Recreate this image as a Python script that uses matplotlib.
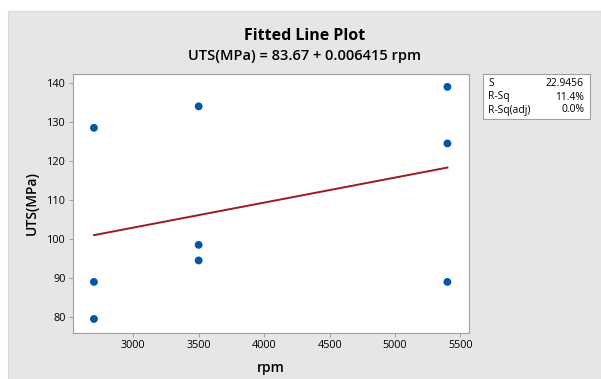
import numpy as np
import matplotlib.pyplot as plt
from matplotlib.patches import Rectangle

plt.rcParams['font.family'] = ['Open Sans', 'DejaVu Sans']

rpm = [2700, 2700, 2700, 3500, 3500, 3500, 5400, 5400, 5400]
uts = [128.5, 89.0, 79.5, 134.0, 98.5, 94.5, 139.0, 124.5, 89.0]
intercept = 83.67
slope = 0.006415
stats_labels = ['S', 'R-Sq', 'R-Sq(adj)']
stats_values = ['22.9456', '11.4%', '0.0%']

W, H = 601, 379
fig = plt.figure(figsize=(W / 100, H / 100), dpi=100)
fig.patch.set_facecolor('white')

# gray panel behind everything
fig.patches.append(Rectangle((8 / W, 0), 1 - 8 / W, 1 - 11 / H, transform=fig.transFigure,
                             facecolor='#e6e6e6', edgecolor='#d8d8d8', lw=0.8, zorder=-10))

ax = fig.add_axes([73 / W, 1 - 333 / H, (469 - 73) / W, (333 - 74) / H])
ax.set_zorder(1)
ax.set_facecolor('white')

xfit = np.linspace(min(rpm), max(rpm), 50)
ax.plot(xfit, intercept + slope * xfit, color='#9c1b1f', lw=1.4, zorder=2)
ax.scatter(rpm, uts, s=32, color='#0656a8', zorder=3, edgecolors='none')

ax.set_xlim(2540, 5565)
ax.set_ylim(75.9, 142.3)
ax.set_xticks([3000, 3500, 4000, 4500, 5000, 5500])
ax.set_yticks([80, 90, 100, 110, 120, 130, 140])
ax.tick_params(labelsize=7.8, length=3, width=0.6, color='#909090', pad=2)
for s in ax.spines.values():
    s.set_color('#a0a0a0')
    s.set_linewidth(0.8)

ax.set_xlabel('rpm', fontsize=10, labelpad=7, fontweight='semibold')
ax.set_ylabel('UTS(MPa)', fontsize=10, labelpad=6, fontweight='semibold')

fig.text(305 / W, 1 - 36 / H, 'Fitted Line Plot', ha='center', va='center',
         fontsize=11.5, fontweight='bold')
fig.text(305 / W, 1 - 56 / H, 'UTS(MPa) = 83.67 + 0.006415 rpm', ha='center',
         va='center', fontsize=10.5, fontweight='semibold')

# statistics box
fig.patches.append(Rectangle((483 / W, 1 - 119 / H), (590 - 483) / W, (119 - 74) / H,
                             transform=fig.transFigure, facecolor='white', edgecolor='#a0a0a0',
                             lw=0.8, zorder=1))
for i, (lab, val) in enumerate(zip(stats_labels, stats_values)):
    y = 1 - (84 + i * 13) / H
    fig.text(488 / W, y, lab, fontsize=7.4, va='center', ha='left', zorder=2)
    fig.text(584 / W, y, val, fontsize=7.4, va='center', ha='right', zorder=2)

plt.savefig('out.png', dpi=100)
